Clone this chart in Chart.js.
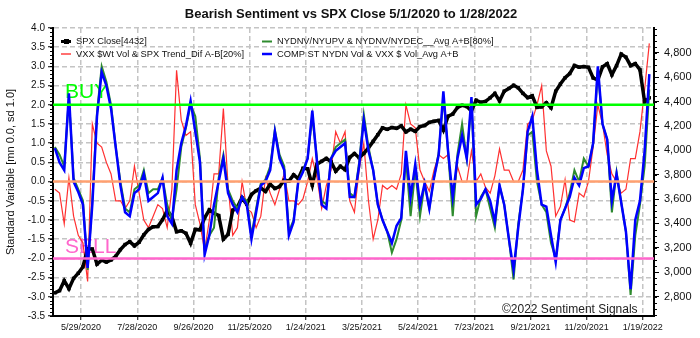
<!DOCTYPE html>
<html>
<head>
<meta charset="utf-8">
<script src="https://cdn.jsdelivr.net/npm/chart.js@4.4.0/dist/chart.umd.min.js"></script>
<style>
  html, body { margin: 0; padding: 0; background: #fff; }
  #wrap { width: 700px; height: 338px; }
</style>
</head>
<body>
<div id="wrap"><canvas id="sentChart" width="700" height="338"></canvas></div>
<script>
// one sample every STEP_DAYS calendar days, starting at START_DATE
const START_DATE = '5/1/2020'
const STEP_DAYS = 5

const spxClose = [
  2830, 2848, 2930, 2864, 2949, 2991, 3044, 3194, 3190, 3066,
  3098, 3083, 3100, 3130, 3185, 3227, 3251, 3216, 3246, 3306,
  3351, 3373, 3375, 3431, 3508, 3455, 3332, 3340, 3319, 3237,
  3351, 3348, 3446, 3512, 3483, 3465, 3271, 3310, 3509, 3537,
  3610, 3557, 3638, 3669, 3691, 3663, 3722, 3687, 3703, 3756,
  3748, 3799, 3768, 3853, 3849, 3714, 3887, 3910, 3934, 3907,
  3829, 3870, 3842, 3943, 3974, 3940, 3975, 4020, 4074, 4129,
  4185, 4173, 4188, 4181, 4201, 4152, 4174, 4156, 4196, 4204,
  4230, 4239, 4246, 4166, 4281, 4298, 4352, 4370, 4360, 4323,
  4412, 4395, 4402, 4432, 4468, 4406, 4486, 4509, 4535, 4514,
  4468, 4433, 4448, 4353, 4357, 4391, 4350, 4486, 4545, 4596,
  4631, 4697, 4683, 4688, 4682, 4595, 4577, 4686, 4712, 4620,
  4696, 4791, 4766, 4696, 4713, 4663, 4398, 4432
]

const vxxTrendDif = [
  -0.2, -0.3, -1.1, 0.1, -0.9, -1.4, -1.6, -2.6, 1.5, 1.0,
  0.9, 0.5, 0.2, -0.5, -0.5, -0.7, -0.5, 0.4, -0.3, -1.0,
  -1.2, -0.9, -0.6, -0.7, -1.2, -0.2, 2.9, 1.6, 1.2, 1.3,
  -0.6, -1.1, -1.8, -1.0, 0.2, 0.2, 1.9, -0.1, -1.4, -1.2,
  0.0, -0.7, -0.8, -1.2, -0.9, 0.1, -0.3, -0.6, -0.2, 0.2,
  -0.5, -0.5, -0.6, -0.45, 0.0, 0.6, 0.1, -0.7, -0.1, 0.3,
  1.3, 1.0, 1.3, -0.5, -0.8, 0.3, 1.0, -0.5, -1.5, -1.0,
  -0.1, -0.2, -0.1, -0.2, 0.2, 2.0, 1.5, 1.4, 0.3, 0.0,
  -0.25, 0.3, 0.7, 0.6, 0.7, -0.6, 0.4, 0.0, 0.0, 0.8,
  0.0, 0.2, -0.15, -0.3, 0.15, 0.85, 0.3, 0.3, 0.0, 0.0,
  0.3, 1.5, 1.6, 2.0, 2.5, 0.8, 0.4, -0.9, -0.65, 0.05,
  -1.0, -1.05, -0.3, -0.4, 0.0, 0.9, 2.0, 1.5, 0.7, 0.2,
  0.0, -0.3, -0.2, 0.6, 0.6, 1.3, 2.4, 3.6
]

const nydnvAvg = [
  0.9, 0.7, 0.4, 2.2, 0.1, -0.2, -0.5, -2.3, -0.5, 1.8,
  3.0, 2.6, 2.0, 0.9, 0.0, -0.7, -0.8, -0.2, -0.1, 0.3,
  -0.3, -0.2, -0.2, 0.1, -0.6, -1.0, -0.2, 0.9, 1.4, 2.0,
  1.7, 0.6, -1.8, -1.4, -1.2, 0.1, 0.7, -0.2, -0.5, -0.7,
  -0.4, -0.5, -1.4, -0.7, -0.05, 0.05, 0.4, 1.35, 0.7, 0.4,
  -1.3, -1.0, 0.0, 0.3, 0.6, 1.7, 0.6, -0.5, -0.6, 0.6,
  0.9, 1.0, 1.1, -0.3, -0.4, 0.5, 1.75, 0.9, 0.3, -0.6,
  -1.0, -1.3, -1.85, -1.5, -1.0, 0.6, -0.9, 0.3, -0.9, -0.05,
  -0.7, 0.1, 0.75, 2.2, 0.8, -0.9, 0.7, 1.5, 0.6, 2.1,
  -0.9, -0.4, -0.2, -0.7, -1.2, -0.1, -0.6, -1.5, -2.55, -1.1,
  -0.2, 1.2, 1.3, 0.0, -0.6, -0.8, -1.6, -2.0, -1.0, -0.7,
  -0.3, 0.3, 0.0, 0.6, 0.4, 1.0, 2.9, 1.5, 1.1, -0.8,
  0.25, -0.55, -1.3, -2.95, -1.4, -0.6, 0.4, 2.4
]

const compNydnAvg = [
  0.87, 0.5, 0.3, 2.3, 0.0, -0.27, -0.6, -2.25, -0.6, 1.7,
  2.85, 2.5, 1.9, 0.9, -0.1, -0.8, -0.9, -0.3, -0.2, 0.2,
  -0.5, -0.4, -0.3, 0.1, -0.9, -1.1, 0.3, 1.0, 1.45, 2.1,
  1.3, 0.5, -1.9, -1.4, -0.6, 0.0, 0.6, -0.3, -0.6, -0.8,
  -0.4, -0.6, -1.5, -0.8, -0.1, 0.0, 0.3, 1.3, 0.6, 0.3,
  -1.4, -1.05, 0.0, 0.25, 0.6, 1.85, 0.5, -0.6, -0.7, 0.6,
  0.8, 0.9, 1.0, -0.4, -0.4, 0.4, 1.6, 0.8, 0.3, -0.6,
  -1.0, -1.3, -1.6, -1.15, -0.95, 0.8, -0.4, 0.45, -0.6, -0.05,
  -0.7, 0.1, 0.7, 2.35, 0.8, -0.4, 0.6, 1.2, 0.6, 2.2,
  -0.6, -0.45, -0.2, -0.5, -1.05, -0.1, -0.6, -1.5, -2.3, -1.2,
  -0.2, 1.3, 1.7, 0.3, -0.6, -0.65, -1.4, -2.1, -1.0, -0.7,
  -0.4, 0.1, -0.1, 0.35, 0.4, 1.0, 3.0, 1.5, 1.1, -0.5,
  0.2, -0.55, -1.3, -2.8, -1.0, -0.5, 0.8, 2.8
]

const dateTicks = ['5/29/2020', '7/28/2020', '9/26/2020', '11/25/2020', '1/24/2021', '3/25/2021',
  '5/24/2021', '7/23/2021', '9/21/2021', '11/20/2021', '1/19/2022']
const spxTicks = [2800, 3000, 3200, 3400, 3600, 3800, 4000, 4200, 4400, 4600, 4800]

const BUY_LEVEL = 2.0
const SELL_LEVEL = -2.0
const ZERO_LEVEL = 0.0

const FONT = '"Liberation Sans", Arial, sans-serif'

function parseDate(s) {
  const [m, d, y] = s.split('/').map(Number)
  return Date.UTC(y, m - 1, d)
}
const t0 = parseDate(START_DATE)
function dayOffset(s) {
  return Math.round((parseDate(s) - t0) / 86400000)
}
function toPoints(arr) {
  return arr.map((v, i) => ({ x: i * STEP_DAYS, y: v }))
}

const legendItems = [
  { text: 'SPX Close[4432]', color: '#000', x: 61, y: 41.5, width: 3, marker: true },
  { text: 'VXX $Wt Vol & SPX Trend_Dif A-B[20%]', color: '#ff4040', x: 61, y: 54, width: 1.5 },
  { text: 'NYDNV/NYUPV & NYDNV/NYDEC__Avg A+B[80%]', color: '#2e8b2e', x: 262, y: 41.5, width: 2 },
  { text: 'COMP ST NYDN Vol & VXX $ Vol_Avg A+B', color: '#0000ff', x: 262, y: 54, width: 2.5 }
]

// small ruler marks between the labelled ticks on both value axes
function minorTicks(ctx, scale, from, to, step, side) {
  const x0 = side === 'left' ? scale.right : scale.left
  const dir = side === 'left' ? -1 : 1
  ctx.beginPath()
  for (let v = from; v <= to + 1e-9; v += step) {
    const py = Math.round(scale.getPixelForValue(v)) + 0.5
    ctx.moveTo(x0, py)
    ctx.lineTo(x0 + dir * 3, py)
  }
  ctx.stroke()
}

const overlay = {
  id: 'overlay',
  beforeDatasetsDraw(chart) {
    const { ctx, chartArea, scales } = chart
    ctx.save()
    ctx.font = '21px ' + FONT
    ctx.textBaseline = 'alphabetic'
    ctx.fillStyle = '#00ff00'
    ctx.fillText('BUY', chartArea.left + 12, scales.y.getPixelForValue(BUY_LEVEL) - 7)
    ctx.fillStyle = '#ff66cc'
    ctx.fillText('SELL', chartArea.left + 12, scales.y.getPixelForValue(SELL_LEVEL) - 5.5)
    ctx.restore()
  },
  afterDatasetsDraw(chart) {
    const { ctx, chartArea, scales } = chart
    const levels = [
      [ZERO_LEVEL, '#ffa070'],
      [BUY_LEVEL, '#00ff00'],
      [SELL_LEVEL, '#ff66cc']
    ]
    ctx.save()
    ctx.lineWidth = 2.5
    levels.forEach(([v, c]) => {
      const py = scales.y.getPixelForValue(v)
      ctx.strokeStyle = c
      ctx.beginPath()
      ctx.moveTo(chartArea.left, py)
      ctx.lineTo(chartArea.right, py)
      ctx.stroke()
    })
    ctx.restore()
  },
  afterDraw(chart) {
    const { ctx, scales } = chart
    ctx.save()
    ctx.strokeStyle = '#000'
    ctx.lineWidth = 1
    minorTicks(ctx, scales.y, -3.5, 4.0, 0.1, 'left')
    minorTicks(ctx, scales.y2, 2650, 5000, 50, 'right')

    // title
    ctx.fillStyle = '#111'
    ctx.font = 'bold 13px ' + FONT
    ctx.textAlign = 'center'
    ctx.textBaseline = 'middle'
    ctx.fillText('Bearish Sentiment vs SPX Close 5/1/2020 to 1/28/2022', 351, 14.5)

    // legend
    ctx.textAlign = 'left'
    ctx.font = '9.3px ' + FONT
    legendItems.forEach(it => {
      ctx.strokeStyle = it.color
      ctx.lineWidth = it.width
      ctx.beginPath()
      ctx.moveTo(it.x, it.y)
      ctx.lineTo(it.x + 10, it.y)
      ctx.stroke()
      if (it.marker) {
        ctx.fillStyle = it.color
        ctx.fillRect(it.x + 3, it.y - 2.5, 5, 5)
      }
      ctx.fillStyle = '#111'
      ctx.fillText(it.text, it.x + 15, it.y)
    })

    // copyright
    ctx.font = '12px ' + FONT
    ctx.fillStyle = '#222'
    ctx.textBaseline = 'alphabetic'
    ctx.fillText('\u00a92022 Sentiment Signals', 502, 313)
    ctx.restore()
  }
}

const gridDash = [5, 3]

new Chart(document.getElementById('sentChart'), {
  type: 'line',
  data: {
    datasets: [
      {
        label: 'COMP ST NYDN Vol & VXX $ Vol_Avg A+B',
        data: toPoints(compNydnAvg),
        borderColor: '#0000ff',
        borderWidth: 2.5,
        pointRadius: 0,
        yAxisID: 'y'
      },
      {
        label: 'NYDNV/NYUPV & NYDNV/NYDEC__Avg A+B[80%]',
        data: toPoints(nydnvAvg),
        borderColor: '#2e8b2e',
        borderWidth: 2,
        pointRadius: 0,
        yAxisID: 'y'
      },
      {
        label: 'SPX Close[4432]',
        data: toPoints(spxClose),
        borderColor: '#000',
        backgroundColor: '#000',
        borderWidth: 3.5,
        pointStyle: 'rect',
        pointRadius: 2.4,
        pointBorderWidth: 0,
        yAxisID: 'y2'
      },
      {
        label: 'VXX $Wt Vol & SPX Trend_Dif A-B[20%]',
        data: toPoints(vxxTrendDif),
        borderColor: '#ff3030',
        borderWidth: 1.2,
        pointRadius: 0,
        yAxisID: 'y'
      }
    ]
  },
  options: {
    responsive: false,
    animation: false,
    events: [],
    layout: { padding: { top: 28, left: 0, right: 0, bottom: 0 } },
    plugins: {
      legend: { display: false },
      tooltip: { enabled: false },
      title: { display: false }
    },
    scales: {
      x: {
        type: 'linear',
        min: -2,
        max: 640,
        afterBuildTicks: axis => { axis.ticks = dateTicks.map(s => ({ value: dayOffset(s) })) },
        afterFit: axis => { axis.height = 22 },
        ticks: {
          callback: (v, i) => dateTicks[i],
          color: '#111',
          font: { size: 9, family: FONT },
          maxRotation: 0,
          padding: 2
        },
        grid: { color: '#c4c4c4', lineWidth: 1.5, tickLength: 4, tickColor: '#000', tickWidth: 1 },
        border: { display: true, color: '#000', width: 2, dash: gridDash }
      },
      y: {
        position: 'left',
        min: -3.5,
        max: 4.0,
        afterFit: axis => { axis.width = 53 },
        ticks: {
          stepSize: 0.5,
          callback: v => v.toFixed(1),
          color: '#111',
          font: { size: 10, family: FONT },
          padding: 3
        },
        title: {
          display: true,
          text: 'Standard Variable [mn 0.0, sd 1.0]',
          color: '#111',
          font: { size: 11, family: FONT },
          padding: { top: 4, bottom: 2 }
        },
        grid: { color: '#c4c4c4', lineWidth: 1.5, tickLength: 5, tickColor: '#000', tickWidth: 1 },
        border: { display: true, color: '#000', width: 2, dash: gridDash }
      },
      y2: {
        position: 'right',
        min: 2640,
        max: 5005,
        afterBuildTicks: axis => { axis.ticks = spxTicks.map(v => ({ value: v })) },
        afterFit: axis => { axis.width = 46 },
        ticks: {
          callback: v => v.toLocaleString('en-US'),
          color: '#111',
          font: { size: 11, family: FONT },
          padding: 5
        },
        grid: { drawOnChartArea: false, tickLength: 5, tickColor: '#000', tickWidth: 1 },
        border: { display: true, color: '#000', width: 2 }
      }
    }
  },
  plugins: [overlay]
})
</script>
</body>
</html>
